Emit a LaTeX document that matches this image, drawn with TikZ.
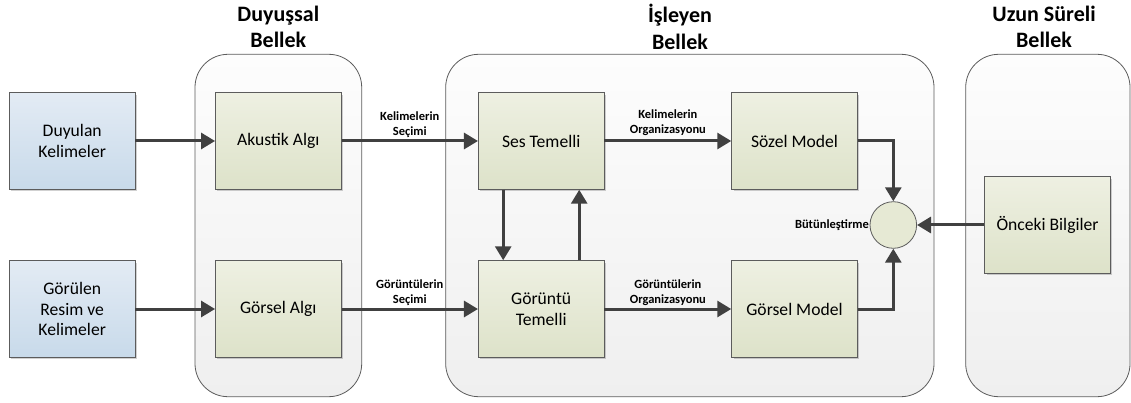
\documentclass[tikz,border=0pt]{standalone}
\usepackage{fontspec}
\setmainfont{Carlito}
\usetikzlibrary{arrows.meta,shadows,calc}

\definecolor{edgegray}{HTML}{5C5C5C}
\definecolor{arrowgray}{HTML}{404040}
\definecolor{blueTop}{HTML}{E3EBF4}
\definecolor{blueBot}{HTML}{C8DAEA}
\definecolor{greenTop}{HTML}{EEF0E2}
\definecolor{greenBot}{HTML}{DDE2C9}
\definecolor{panelTop}{HTML}{FDFDFD}
\definecolor{panelBot}{HTML}{EFEFEF}
\definecolor{circFill}{HTML}{E6E9D4}

\tikzset{
  basebox/.style={draw=edgegray, line width=0.8pt, minimum width=125.7pt,
    minimum height=96.7pt, align=center, inner sep=2pt,
    font=\fontsize{17.6}{20.8}\selectfont,
    drop shadow={shadow xshift=2pt, shadow yshift=-2pt, fill=black, opacity=0.18}},
  inbox/.style={basebox, top color=blueTop, bottom color=blueBot},
  procbox/.style={basebox, top color=greenTop, bottom color=greenBot},
  panel/.style={draw=edgegray, line width=0.8pt, rounded corners=33pt,
    top color=panelTop, bottom color=panelBot, minimum height=342.4pt},
  paneltitle/.style={font=\bfseries\fontsize{22}{26.5}\selectfont, align=center},
  flow/.style={draw=arrowgray, line width=3pt,
    -{Triangle[length=14pt,width=16pt]}},
  flowlabel/.style={font=\bfseries\fontsize{12.5}{15.2}\selectfont, align=center,
    inner sep=1pt},
  joiner/.style={circle, draw=edgegray, line width=0.8pt, fill=circFill,
    minimum size=46.6pt, inner sep=0pt}
}

\begin{document}
\begin{tikzpicture}[x=1pt, y=-1pt]
  \useasboundingbox (0,0) rectangle (1131,403);

  % memory panels
  \node[panel, minimum width=166.7pt] (sensory) at (278.35,225.5) {};
  \node[panel, minimum width=488.3pt] (working) at (689.85,225.5) {};
  \node[panel, minimum width=164.3pt] (longterm) at (1047.85,225.5) {};

  % panel titles
  \node[paneltitle] (tsens) at (278.3,27) {Duyuşsal\\Bellek};
  \node[paneltitle] (twork) at (680,27) {İşleyen\\Bellek};
  \node[paneltitle] (tlong) at (1044,27) {Uzun Süreli\\Bellek};

  % inputs
  \node[inbox] (heard) at (72.2,141) {Duyulan\\Kelimeler};
  \node[inbox] (seen) at (72.2,309) {Görülen\\Resim ve\\Kelimeler};

  % sensory memory
  \node[procbox] (acoustic) at (278.3,141) {Akustik Algı};
  \node[procbox] (visual) at (278.3,309) {Görsel Algı};

  % working memory
  \node[procbox] (sound) at (541.2,141) {Ses Temelli};
  \node[procbox] (image) at (541.2,309) {Görüntü\\Temelli};
  \node[procbox] (verbal) at (794.5,141) {Sözel Model};
  \node[procbox] (pictorial) at (794.5,309) {Görsel Model};
  \node[joiner] (integrate) at (893.3,225) {};
  \node[flowlabel, anchor=east, inner sep=0.5pt] (tint) at (integrate.west) {Bütünleştirme};

  % long-term memory
  \node[procbox] (prior) at (1047.5,225) {Önceki Bilgiler};

  % connectors
  \draw[flow] (heard.east) -- (acoustic.west);
  \draw[flow] (seen.east) -- (visual.west);
  \draw[flow] (acoustic.east) -- node[flowlabel, above=1pt] (l1) {Kelimelerin\\Seçimi} (sound.west);
  \draw[flow] (visual.east) -- node[flowlabel, above=1pt] (l2) {Görüntülerin\\Seçimi} (image.west);
  \draw[flow] (sound.east) -- node[flowlabel, above=3pt] (l3) {Kelimelerin\\Organizasyonu} (verbal.west);
  \draw[flow] (image.east) -- node[flowlabel, above=1pt] (l4) {Görüntülerin\\Organizasyonu} (pictorial.west);
  \draw[flow] ([xshift=-38pt]sound.south) -- ([xshift=-38pt]image.north);
  \draw[flow] ([xshift=38pt]image.north) -- ([xshift=38pt]sound.south);
  \draw[flow] (verbal.east) -| (integrate.north);
  \draw[flow] (pictorial.east) -| (integrate.south);
  \draw[flow] (prior.west) -- (integrate.east);
\end{tikzpicture}
\end{document}
